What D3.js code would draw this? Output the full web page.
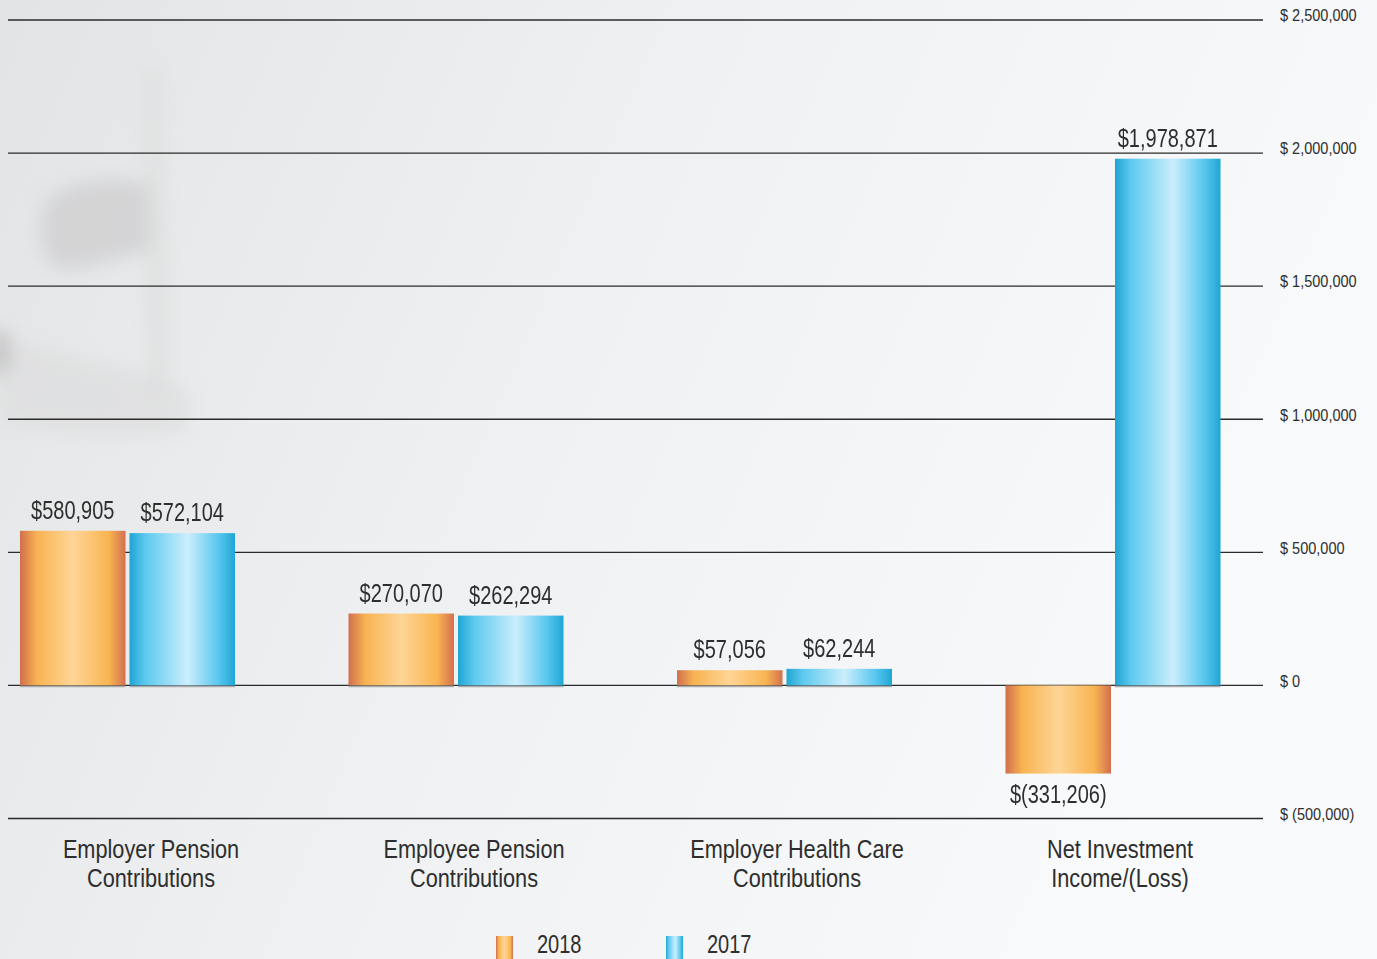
<!DOCTYPE html>
<html>
<head>
<meta charset="utf-8">
<script src="https://cdn.jsdelivr.net/npm/d3@7/dist/d3.min.js"></script>
<style>
  html, body { margin: 0; padding: 0; background: #eef0f1; }
  svg { display: block; }
  text { font-family: "Liberation Sans", Arial, sans-serif; fill: #2e2e2e; }
</style>
</head>
<body>
<svg id="chart" width="1377" height="959"></svg>
<script>
// Fund additions by source, fiscal 2018 vs 2017
const categories = [
  ["Employer Pension", "Contributions"],
  ["Employee Pension", "Contributions"],
  ["Employer Health Care", "Contributions"],
  ["Net Investment", "Income/(Loss)"]
];
const years = ["2018", "2017"];
const values2018 = [580905, 270070, 57056, -331206];
const values2017 = [572104, 262294, 62244, 1978871];
const tickValues = [2500000, 2000000, 1500000, 1000000, 500000, 0, -500000];
const tickLabels = ["$ 2,500,000", "$ 2,000,000", "$ 1,500,000", "$ 1,000,000", "$ 500,000", "$ 0", "$ (500,000)"];

const W = 1377, H = 959;
const NARROW = 0.8;   // horizontal squeeze for a condensed face
const svg = d3.select("#chart");
const defs = svg.append("defs");

// page background
const bg = defs.append("linearGradient").attr("id", "bg").attr("x1", 0).attr("x2", 1).attr("y1", 0).attr("y2", 0.3);
bg.append("stop").attr("offset", "0").attr("stop-color", "#e3e4e5");
bg.append("stop").attr("offset", "0.45").attr("stop-color", "#eef0f1");
bg.append("stop").attr("offset", "1").attr("stop-color", "#f8fafb");
svg.append("rect").attr("width", W).attr("height", H).attr("fill", "url(#bg)");

// soft decorative note in the background
defs.append("filter").attr("id", "soft").attr("x", "-50%").attr("y", "-50%").attr("width", "200%").attr("height", "200%")
  .append("feGaussianBlur").attr("stdDeviation", 9);
const deco = svg.append("g").attr("filter", "url(#soft)");
deco.append("path").attr("d", "M45,205 C60,180 120,175 150,185 L152,250 C120,255 90,270 60,268 C40,262 38,230 45,205 Z")
  .attr("fill", "#cdcecf").attr("opacity", 0.75);
deco.append("path").attr("d", "M146,68 L158,66 L168,390 L150,392 Z").attr("fill", "#dcdddd").attr("opacity", 0.8);
deco.append("path").attr("d", "M0,335 C60,360 160,370 190,395 L185,430 C120,440 40,430 0,420 Z").attr("fill", "#dadbdc").attr("opacity", 0.6);
deco.append("ellipse").attr("cx", 0).attr("cy", 352).attr("rx", 9).attr("ry", 24).attr("fill", "#b9b9ba").attr("opacity", 0.8);

// bar gradients
function barGradient(id, stops) {
  const g = defs.append("linearGradient").attr("id", id).attr("x1", 0).attr("x2", 1).attr("y1", 0).attr("y2", 0);
  stops.forEach(([o, c]) => g.append("stop").attr("offset", o).attr("stop-color", c));
}
barGradient("g2018", [[0, "#d06f4e"], [0.16, "#f8b352"], [0.5, "#fed596"], [0.56, "#fdcf8a"], [0.84, "#f9b552"], [1, "#d3704f"]]);
barGradient("g2017", [[0, "#1fa4d2"], [0.15, "#5cc9ef"], [0.55, "#cbeefc"], [0.85, "#56c6ee"], [1, "#1fa6d3"]]);
const fills = { "2018": "url(#g2018)", "2017": "url(#g2017)" };

// scales
const y = d3.scaleLinear().domain([-500000, 2500000]).range([818.5, 20]);
const x0 = d3.scaleBand().domain(d3.range(categories.length)).range([20, 1220.5]).paddingInner(0.3455).paddingOuter(0);
const x1 = d3.scaleBand().domain(years).range([0, x0.bandwidth()]).paddingInner(0.0365);
const xLabel = d3.scalePoint().domain(d3.range(categories.length)).range([151, 1120]);

// gridlines
svg.append("g").selectAll("line").data(tickValues).join("line")
  .attr("x1", 8).attr("x2", 1263)
  .attr("y1", d => y(d)).attr("y2", d => y(d))
  .attr("stroke", "#2b2b2b").attr("stroke-width", 1.4);

// right-hand axis labels, sitting slightly above their gridlines
const axis = d3.axisRight(y).tickValues(tickValues).tickSize(0).tickPadding(0)
  .tickFormat((d, i) => tickLabels[i]);
const axisG = svg.append("g").attr("transform", "translate(1280,-5)").call(axis);
axisG.select(".domain").remove();
axisG.selectAll("text")
  .attr("font-size", 16.5).attr("fill", "#333").attr("dy", "0.35em").attr("x", 0)
  .attr("transform", "scale(0.88,1)");

// bars
const rows = categories.map((c, i) => ({ i, vals: [{ year: "2018", v: values2018[i] }, { year: "2017", v: values2017[i] }] }));
const groups = svg.append("g").selectAll("g").data(rows).join("g")
  .attr("transform", d => `translate(${x0(d.i)},0)`);

groups.selectAll("rect.bar").data(d => d.vals).join("rect")
  .attr("class", "bar")
  .attr("x", d => x1(d.year))
  .attr("width", x1.bandwidth())
  .attr("y", d => y(Math.max(0, d.v)))
  .attr("height", d => Math.abs(y(d.v) - y(0)))
  .attr("fill", d => fills[d.year]);

// faint shadow line at the foot of the positive bars
groups.selectAll("line.foot").data(d => d.vals.filter(v => v.v > 0)).join("line")
  .attr("class", "foot")
  .attr("x1", d => x1(d.year)).attr("x2", d => x1(d.year) + x1.bandwidth())
  .attr("y1", y(0) + 1).attr("y2", y(0) + 1)
  .attr("stroke", "#a9aaab").attr("stroke-width", 1.5);

// value labels
const fmt = d3.format(",");
groups.selectAll("text.val").data(d => d.vals).join("text")
  .attr("class", "val")
  .attr("text-anchor", "middle")
  .attr("font-size", 25)
  .attr("transform", d => {
    const tx = x1(d.year) + x1.bandwidth() / 2;
    const ty = d.v >= 0 ? y(d.v) - 12 : y(d.v) + 29;
    return `translate(${tx},${ty}) scale(${NARROW},1)`;
  })
  .text(d => d.v >= 0 ? "$" + fmt(d.v) : "$(" + fmt(-d.v) + ")");

// category labels
const cat = svg.append("g").selectAll("text").data(categories).join("text")
  .attr("transform", (d, i) => `translate(${xLabel(i)},858) scale(0.82,1)`)
  .attr("text-anchor", "middle")
  .attr("font-size", 26.5);
cat.selectAll("tspan").data(d => d).join("tspan")
  .attr("x", 0)
  .attr("dy", (d, i) => i === 0 ? 0 : 29)
  .text(d => d);

// legend
const legendX = d3.scalePoint().domain(years).range([496, 666]);
const leg = svg.append("g").selectAll("g").data(years).join("g")
  .attr("transform", d => `translate(${legendX(d)},936)`);
leg.append("rect").attr("width", 17).attr("height", 24).attr("fill", d => fills[d]);
leg.append("text").attr("transform", `translate(41,17) scale(${NARROW},1)`).attr("font-size", 25).text(d => d);
</script>
</body>
</html>
